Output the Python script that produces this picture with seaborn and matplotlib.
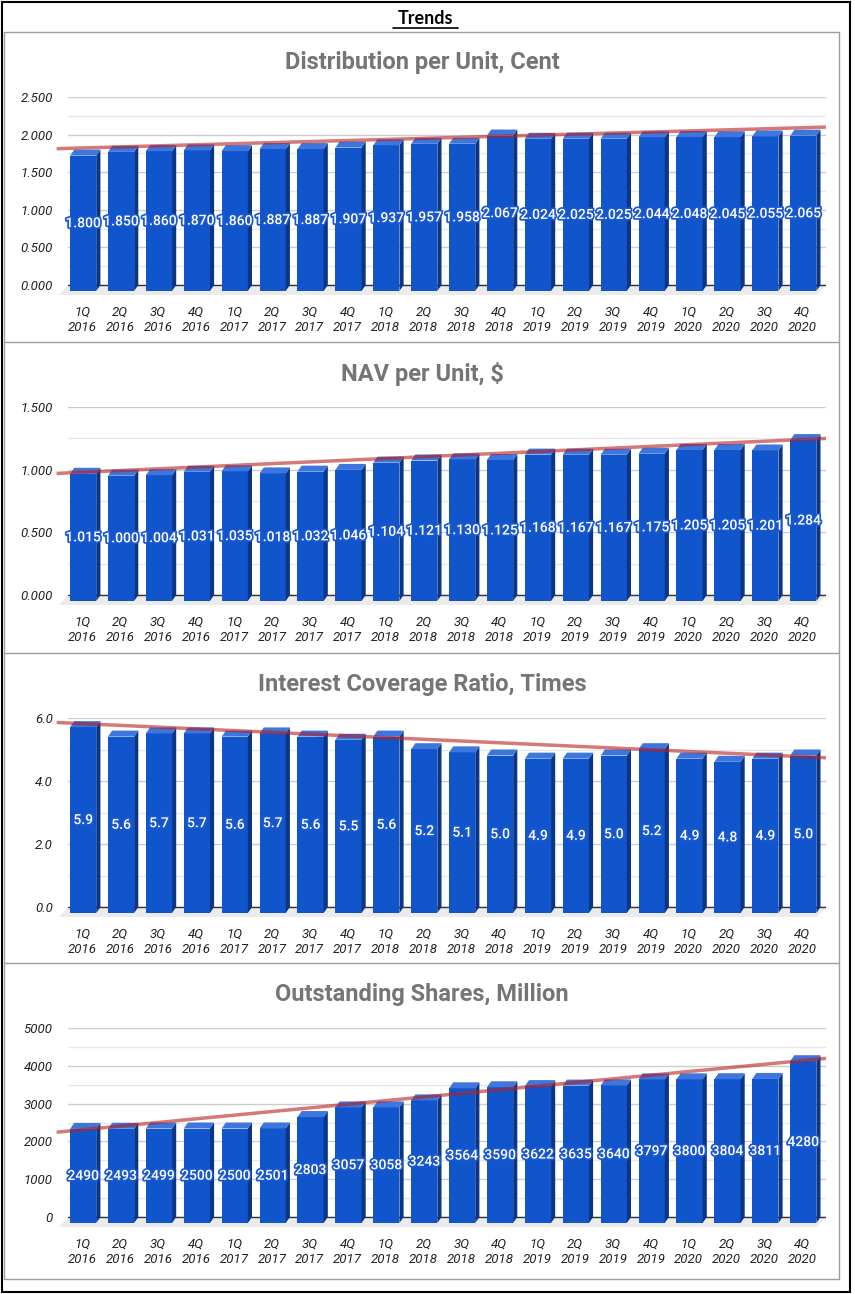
import numpy as np
import pandas as pd
import matplotlib
matplotlib.use('Agg')
import matplotlib.pyplot as plt
import matplotlib.patheffects as pe
from matplotlib.patches import Polygon, Rectangle
from matplotlib.lines import Line2D
import seaborn as sns

quarters = ['1Q\n2016', '2Q\n2016', '3Q\n2016', '4Q\n2016',
            '1Q\n2017', '2Q\n2017', '3Q\n2017', '4Q\n2017',
            '1Q\n2018', '2Q\n2018', '3Q\n2018', '4Q\n2018',
            '1Q\n2019', '2Q\n2019', '3Q\n2019', '4Q\n2019',
            '1Q\n2020', '2Q\n2020', '3Q\n2020', '4Q\n2020']

dpu = [1.800, 1.850, 1.860, 1.870, 1.860, 1.887, 1.887, 1.907, 1.937, 1.957,
       1.958, 2.067, 2.024, 2.025, 2.025, 2.044, 2.048, 2.045, 2.055, 2.065]
nav = [1.015, 1.000, 1.004, 1.031, 1.035, 1.018, 1.032, 1.046, 1.104, 1.121,
       1.130, 1.125, 1.168, 1.167, 1.167, 1.175, 1.205, 1.205, 1.201, 1.284]
icr = [5.9, 5.6, 5.7, 5.7, 5.6, 5.7, 5.6, 5.5, 5.6, 5.2,
       5.1, 5.0, 4.9, 4.9, 5.0, 5.2, 4.9, 4.8, 4.9, 5.0]
shares = [2490, 2493, 2499, 2500, 2500, 2501, 2803, 3057, 3058, 3243,
          3564, 3590, 3622, 3635, 3640, 3797, 3800, 3804, 3811, 4280]

titles = ['Distribution per Unit, Cent', 'NAV per Unit, $',
          'Interest Coverage Ratio, Times', 'Outstanding Shares, Million']

sns.set_theme(style='white')
plt.rcParams['font.family'] = ['Roboto', 'DejaVu Sans']

W, H = 855, 1294
fig = plt.figure(figsize=(W / 100, H / 100), dpi=100)

FRONT = '#1155cc'
TOP = '#3d76dc'
SIDE = '#0b3585'
TREND = (0.72, 0.12, 0.12)

# (values, ymax, major step, label format, tick format, top px, zero px, title px)
panels = [
    (dpu, 2.5, 0.5, '{:.3f}', '{:.3f}', 97, 285, 63),
    (nav, 1.5, 0.5, '{:.3f}', '{:.3f}', 407, 595, 374),
    (icr, 6.0, 2.0, '{:.1f}', '{:.1f}', 718, 907, 685),
    (shares, 5000, 1000, '{:.0f}', '{:.0f}', 1028, 1217, 995),
]

X0, X1 = 68, 826
MARGIN = 12  # px below zero line kept inside axes

for title, (vals, ymax, step, lfmt, tfmt, top, zero, ty) in zip(titles, panels):
    ppx = ymax / (zero - top)
    ax = fig.add_axes([X0 / W, 1 - (zero + MARGIN) / H,
                       (X1 - X0) / W, (zero + MARGIN - top) / H])
    df = pd.DataFrame({'quarter': quarters, 'value': vals})
    sns.barplot(data=df, x='quarter', y='value', color=FRONT, width=0.69,
                saturation=1, ax=ax, zorder=2)

    dx = 0.11
    dy = 6 * ppx
    for p in list(ax.patches):
        x0 = p.get_x() - 0.1
        w = p.get_width()
        h = p.get_height()
        p.set_x(x0)
        p.set_y(-dy)
        p.set_linewidth(0)
        ax.add_patch(Polygon([(x0 + w, -dy), (x0 + w + dx, 0), (x0 + w + dx, h),
                              (x0 + w, h - dy)], closed=True, color=SIDE,
                             lw=0, zorder=2))
        ax.add_patch(Polygon([(x0, h - dy), (x0 + w, h - dy), (x0 + w + dx, h),
                              (x0 + dx, h)], closed=True, color=TOP,
                             lw=0, zorder=2))
        ax.text(x0 + w / 2, (h - 2 * dy) / 2, lfmt.format(h), ha='center',
                va='center', color='white', fontsize=10, weight='medium',
                zorder=5,
                path_effects=[pe.withStroke(linewidth=2.5, foreground='#1a58d2')])

    # floor
    fdy = 10 * ppx
    ax.add_patch(Polygon([(-0.74, -fdy), (19.26, -fdy), (19.5, 0), (-0.5, 0)],
                         closed=True, color='#ebebeb', lw=0, zorder=0.6,
                         clip_on=False))
    ax.axhline(0, color='#333333', lw=1, zorder=1.5)

    # linear trendline
    xs = np.arange(len(vals))
    k, b = np.polyfit(xs, vals, 1)
    xt = np.array([-0.8, 19.5])
    ax.plot(xt, k * xt + b, color=TREND, alpha=0.6, lw=2.5, zorder=4,
            clip_on=False, solid_capstyle='butt')

    ax.set_xlim(-0.5, 19.5)
    ax.set_ylim(-MARGIN * ppx, ymax)
    major = np.arange(0, ymax + step / 2, step)
    ax.set_yticks(major)
    ax.set_yticklabels([tfmt.format(v) for v in major])
    ax.set_yticks(np.arange(step / 2, ymax, step), minor=True)
    ax.grid(which='major', axis='y', color='#cccccc', lw=1)
    ax.grid(which='minor', axis='y', color='#e8e8e8', lw=1)
    ax.grid(which='major', axis='x', visible=False)
    ax.set_axisbelow(True)
    ax.set_xticks(np.arange(len(vals)) - 0.12)
    ax.set_xticklabels(quarters)
    ax.tick_params(axis='x', length=0, pad=6, labelsize=9.5, labelcolor='#222222')
    ax.tick_params(axis='y', which='both', length=0, pad=11, labelsize=9.5,
                   labelcolor='#222222')
    for lab in ax.get_xticklabels() + ax.get_yticklabels():
        lab.set_fontstyle('italic')
        lab.set_linespacing(1.25)
    ax.set_xlabel('')
    ax.set_ylabel('')
    for s in ax.spines.values():
        s.set_visible(False)
    ax.patch.set_alpha(0)

    fig.text(422 / W, 1 - ty / H, title, ha='center', va='center', fontsize=17,
             weight='bold', color='#757575')

# panel frames
for yb in [32, 342, 653, 963, 1279]:
    fig.add_artist(Line2D([4 / W, 839 / W], [1 - yb / H, 1 - yb / H],
                          color='#9e9e9e', lw=1))
for xb in [4, 839]:
    fig.add_artist(Line2D([xb / W, xb / W], [1 - 32 / H, 1 - 1279 / H],
                          color='#9e9e9e', lw=1))

# outer border
fig.add_artist(Rectangle((2 / W, 2 / H), 848 / W, 1290 / H, fill=False,
                         edgecolor='black', lw=1.5, transform=fig.transFigure))

fig.text(0.5 * (393 + 458) / W, 1 - 18 / H, 'Trends', ha='center', va='center',
         fontsize=13, weight='bold', color='black', family=['Lato', 'DejaVu Sans'])
fig.add_artist(Line2D([393 / W, 458 / W], [1 - 28 / H, 1 - 28 / H],
                      color='black', lw=1.2))

fig.savefig('out.png', dpi=100)
